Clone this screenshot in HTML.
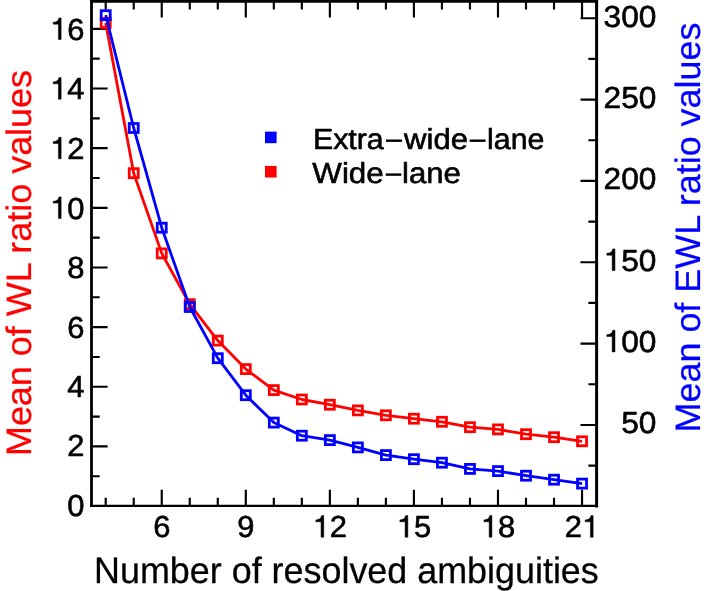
<!DOCTYPE html>
<html><head><meta charset="utf-8"><title>chart</title>
<style>
html,body{margin:0;padding:0;background:#fff;}
svg{display:block;will-change:transform;}
text{font-family:"Liberation Sans",sans-serif;stroke-width:0.6px;stroke-linejoin:round;text-rendering:geometricPrecision;}
text.t{stroke-width:0.25px;}text.k{stroke:#000;}text.r{stroke:#f00;}text.b{stroke:#00f;}
</style></head><body>
<svg width="711" height="591" viewBox="0 0 711 591">
<rect x="0" y="0" width="711" height="591" fill="#fff"/>
<path d="M105.70 505.90V497.70M105.70 1.37V9.57M133.72 505.90V497.70M133.72 1.37V9.57M161.74 505.90V489.80M161.74 1.37V17.47M189.76 505.90V497.70M189.76 1.37V9.57M217.78 505.90V497.70M217.78 1.37V9.57M245.80 505.90V489.80M245.80 1.37V17.47M273.82 505.90V497.70M273.82 1.37V9.57M301.84 505.90V497.70M301.84 1.37V9.57M329.86 505.90V489.80M329.86 1.37V17.47M357.88 505.90V497.70M357.88 1.37V9.57M385.90 505.90V497.70M385.90 1.37V9.57M413.92 505.90V489.80M413.92 1.37V17.47M441.94 505.90V497.70M441.94 1.37V9.57M469.96 505.90V497.70M469.96 1.37V9.57M497.98 505.90V489.80M497.98 1.37V17.47M526.00 505.90V497.70M526.00 1.37V9.57M554.02 505.90V497.70M554.02 1.37V9.57M582.04 505.90V489.80M582.04 1.37V17.47M91.50 476.27H99.70M91.50 446.44H107.60M91.50 416.61H99.70M91.50 386.78H107.60M91.50 356.95H99.70M91.50 327.12H107.60M91.50 297.29H99.70M91.50 267.46H107.60M91.50 237.63H99.70M91.50 207.80H107.60M91.50 177.97H99.70M91.50 148.14H107.60M91.50 118.31H99.70M91.50 88.48H107.60M91.50 58.65H99.70M91.50 28.82H107.60M596.60 465.62H588.40M596.60 424.95H580.50M596.60 384.27H588.40M596.60 343.60H580.50M596.60 302.93H588.40M596.60 262.25H580.50M596.60 221.57H588.40M596.60 180.90H580.50M596.60 140.23H588.40M596.60 99.55H580.50M596.60 58.88H588.40M596.60 18.20H580.50" stroke="#000" stroke-width="2.15" fill="none"/>
<polyline points="105.70,23.00 133.72,173.20 161.74,253.40 189.76,304.20 217.78,340.60 245.80,369.10 273.82,390.10 301.84,399.50 329.86,404.70 357.88,410.40 385.90,415.30 413.92,418.70 441.94,421.80 469.96,427.20 497.98,429.40 526.00,434.20 554.02,437.20 582.04,441.30" fill="none" stroke="#ff0000" stroke-width="2.8" stroke-linejoin="round"/>
<rect x="101.20" y="18.50" width="9.0" height="9.0" fill="none" stroke="#ff0000" stroke-width="2.8"/>
<rect x="129.22" y="168.70" width="9.0" height="9.0" fill="none" stroke="#ff0000" stroke-width="2.8"/>
<rect x="157.24" y="248.90" width="9.0" height="9.0" fill="none" stroke="#ff0000" stroke-width="2.8"/>
<rect x="185.26" y="299.70" width="9.0" height="9.0" fill="none" stroke="#ff0000" stroke-width="2.8"/>
<rect x="213.28" y="336.10" width="9.0" height="9.0" fill="none" stroke="#ff0000" stroke-width="2.8"/>
<rect x="241.30" y="364.60" width="9.0" height="9.0" fill="none" stroke="#ff0000" stroke-width="2.8"/>
<rect x="269.32" y="385.60" width="9.0" height="9.0" fill="none" stroke="#ff0000" stroke-width="2.8"/>
<rect x="297.34" y="395.00" width="9.0" height="9.0" fill="none" stroke="#ff0000" stroke-width="2.8"/>
<rect x="325.36" y="400.20" width="9.0" height="9.0" fill="none" stroke="#ff0000" stroke-width="2.8"/>
<rect x="353.38" y="405.90" width="9.0" height="9.0" fill="none" stroke="#ff0000" stroke-width="2.8"/>
<rect x="381.40" y="410.80" width="9.0" height="9.0" fill="none" stroke="#ff0000" stroke-width="2.8"/>
<rect x="409.42" y="414.20" width="9.0" height="9.0" fill="none" stroke="#ff0000" stroke-width="2.8"/>
<rect x="437.44" y="417.30" width="9.0" height="9.0" fill="none" stroke="#ff0000" stroke-width="2.8"/>
<rect x="465.46" y="422.70" width="9.0" height="9.0" fill="none" stroke="#ff0000" stroke-width="2.8"/>
<rect x="493.48" y="424.90" width="9.0" height="9.0" fill="none" stroke="#ff0000" stroke-width="2.8"/>
<rect x="521.50" y="429.70" width="9.0" height="9.0" fill="none" stroke="#ff0000" stroke-width="2.8"/>
<rect x="549.52" y="432.70" width="9.0" height="9.0" fill="none" stroke="#ff0000" stroke-width="2.8"/>
<rect x="577.54" y="436.80" width="9.0" height="9.0" fill="none" stroke="#ff0000" stroke-width="2.8"/>
<polyline points="105.70,15.20 133.72,128.00 161.74,227.70 189.76,307.00 217.78,358.20 245.80,395.20 273.82,422.60 301.84,435.70 329.86,440.10 357.88,447.40 385.90,455.10 413.92,459.20 441.94,462.70 469.96,468.90 497.98,471.10 526.00,475.70 554.02,479.70 582.04,483.60" fill="none" stroke="#0000ff" stroke-width="2.8" stroke-linejoin="round"/>
<rect x="101.20" y="10.70" width="9.0" height="9.0" fill="none" stroke="#0000ff" stroke-width="2.8"/>
<rect x="129.22" y="123.50" width="9.0" height="9.0" fill="none" stroke="#0000ff" stroke-width="2.8"/>
<rect x="157.24" y="223.20" width="9.0" height="9.0" fill="none" stroke="#0000ff" stroke-width="2.8"/>
<rect x="185.26" y="302.50" width="9.0" height="9.0" fill="none" stroke="#0000ff" stroke-width="2.8"/>
<rect x="213.28" y="353.70" width="9.0" height="9.0" fill="none" stroke="#0000ff" stroke-width="2.8"/>
<rect x="241.30" y="390.70" width="9.0" height="9.0" fill="none" stroke="#0000ff" stroke-width="2.8"/>
<rect x="269.32" y="418.10" width="9.0" height="9.0" fill="none" stroke="#0000ff" stroke-width="2.8"/>
<rect x="297.34" y="431.20" width="9.0" height="9.0" fill="none" stroke="#0000ff" stroke-width="2.8"/>
<rect x="325.36" y="435.60" width="9.0" height="9.0" fill="none" stroke="#0000ff" stroke-width="2.8"/>
<rect x="353.38" y="442.90" width="9.0" height="9.0" fill="none" stroke="#0000ff" stroke-width="2.8"/>
<rect x="381.40" y="450.60" width="9.0" height="9.0" fill="none" stroke="#0000ff" stroke-width="2.8"/>
<rect x="409.42" y="454.70" width="9.0" height="9.0" fill="none" stroke="#0000ff" stroke-width="2.8"/>
<rect x="437.44" y="458.20" width="9.0" height="9.0" fill="none" stroke="#0000ff" stroke-width="2.8"/>
<rect x="465.46" y="464.40" width="9.0" height="9.0" fill="none" stroke="#0000ff" stroke-width="2.8"/>
<rect x="493.48" y="466.60" width="9.0" height="9.0" fill="none" stroke="#0000ff" stroke-width="2.8"/>
<rect x="521.50" y="471.20" width="9.0" height="9.0" fill="none" stroke="#0000ff" stroke-width="2.8"/>
<rect x="549.52" y="475.20" width="9.0" height="9.0" fill="none" stroke="#0000ff" stroke-width="2.8"/>
<rect x="577.54" y="479.10" width="9.0" height="9.0" fill="none" stroke="#0000ff" stroke-width="2.8"/>
<path d="M91.5 506.9V-0.029999999999999805" stroke="#000" stroke-width="2.8" fill="none"/>
<path d="M90.1 1.37H598.1" stroke="#000" stroke-width="2.76" fill="none"/>
<path d="M596.6 -0.029999999999999805V507.5" stroke="#000" stroke-width="3.0" fill="none"/>
<path d="M90.1 505.9H598.1" stroke="#000" stroke-width="2.1" fill="none"/>
<text transform="translate(153.15,537.20) scale(1.03,1.015)" font-size="30.0" text-anchor="start" class="k">6</text>
<text transform="translate(237.21,537.20) scale(1.03,1.015)" font-size="30.0" text-anchor="start" class="k">9</text>
<path transform="translate(312.68,537.20) scale(0.03090,-0.03045)" d="M359 0H271V505H102V568C209 572 263 598 287 709H359Z" fill="#000" stroke="#000" stroke-width="16" stroke-linejoin="round"/>
<text transform="translate(329.86,537.20) scale(1.03,1.015)" font-size="30.0" text-anchor="start" class="k">2</text>
<path transform="translate(396.74,537.20) scale(0.03090,-0.03045)" d="M359 0H271V505H102V568C209 572 263 598 287 709H359Z" fill="#000" stroke="#000" stroke-width="16" stroke-linejoin="round"/>
<text transform="translate(413.92,537.20) scale(1.03,1.015)" font-size="30.0" text-anchor="start" class="k">5</text>
<path transform="translate(480.80,537.20) scale(0.03090,-0.03045)" d="M359 0H271V505H102V568C209 572 263 598 287 709H359Z" fill="#000" stroke="#000" stroke-width="16" stroke-linejoin="round"/>
<text transform="translate(497.98,537.20) scale(1.03,1.015)" font-size="30.0" text-anchor="start" class="k">8</text>
<text transform="translate(564.86,537.20) scale(1.03,1.015)" font-size="30.0" text-anchor="start" class="k">2</text>
<path transform="translate(582.04,537.20) scale(0.03090,-0.03045)" d="M359 0H271V505H102V568C209 572 263 598 287 709H359Z" fill="#000" stroke="#000" stroke-width="16" stroke-linejoin="round"/>
<text transform="translate(67.22,516.00) scale(1.03,1.015)" font-size="30.0" text-anchor="start" class="k">0</text>
<text transform="translate(67.22,456.24) scale(1.03,1.015)" font-size="30.0" text-anchor="start" class="k">2</text>
<text transform="translate(67.22,397.48) scale(1.03,1.015)" font-size="30.0" text-anchor="start" class="k">4</text>
<text transform="translate(67.22,337.82) scale(1.03,1.015)" font-size="30.0" text-anchor="start" class="k">6</text>
<text transform="translate(67.22,278.16) scale(1.03,1.015)" font-size="30.0" text-anchor="start" class="k">8</text>
<path transform="translate(50.04,218.50) scale(0.03090,-0.03045)" d="M359 0H271V505H102V568C209 572 263 598 287 709H359Z" fill="#000" stroke="#000" stroke-width="16" stroke-linejoin="round"/>
<text transform="translate(67.22,218.50) scale(1.03,1.015)" font-size="30.0" text-anchor="start" class="k">0</text>
<path transform="translate(50.04,158.84) scale(0.03090,-0.03045)" d="M359 0H271V505H102V568C209 572 263 598 287 709H359Z" fill="#000" stroke="#000" stroke-width="16" stroke-linejoin="round"/>
<text transform="translate(67.22,158.84) scale(1.03,1.015)" font-size="30.0" text-anchor="start" class="k">2</text>
<path transform="translate(50.04,99.18) scale(0.03090,-0.03045)" d="M359 0H271V505H102V568C209 572 263 598 287 709H359Z" fill="#000" stroke="#000" stroke-width="16" stroke-linejoin="round"/>
<text transform="translate(67.22,99.18) scale(1.03,1.015)" font-size="30.0" text-anchor="start" class="k">4</text>
<path transform="translate(50.04,39.52) scale(0.03090,-0.03045)" d="M359 0H271V505H102V568C209 572 263 598 287 709H359Z" fill="#000" stroke="#000" stroke-width="16" stroke-linejoin="round"/>
<text transform="translate(67.22,39.52) scale(1.03,1.015)" font-size="30.0" text-anchor="start" class="k">6</text>
<text transform="translate(621.21,433.25) scale(1.055,1.015)" font-size="30.0" text-anchor="start" class="k">5</text>
<text transform="translate(638.80,433.25) scale(1.055,1.015)" font-size="30.0" text-anchor="start" class="k">0</text>
<path transform="translate(603.61,351.90) scale(0.03165,-0.03045)" d="M359 0H271V505H102V568C209 572 263 598 287 709H359Z" fill="#000" stroke="#000" stroke-width="16" stroke-linejoin="round"/>
<text transform="translate(621.21,351.90) scale(1.055,1.015)" font-size="30.0" text-anchor="start" class="k">0</text>
<text transform="translate(638.80,351.90) scale(1.055,1.015)" font-size="30.0" text-anchor="start" class="k">0</text>
<path transform="translate(603.61,270.55) scale(0.03165,-0.03045)" d="M359 0H271V505H102V568C209 572 263 598 287 709H359Z" fill="#000" stroke="#000" stroke-width="16" stroke-linejoin="round"/>
<text transform="translate(621.21,270.55) scale(1.055,1.015)" font-size="30.0" text-anchor="start" class="k">5</text>
<text transform="translate(638.80,270.55) scale(1.055,1.015)" font-size="30.0" text-anchor="start" class="k">0</text>
<text transform="translate(603.61,189.20) scale(1.055,1.015)" font-size="30.0" text-anchor="start" class="k">2</text>
<text transform="translate(621.21,189.20) scale(1.055,1.015)" font-size="30.0" text-anchor="start" class="k">0</text>
<text transform="translate(638.80,189.20) scale(1.055,1.015)" font-size="30.0" text-anchor="start" class="k">0</text>
<text transform="translate(603.61,107.85) scale(1.055,1.015)" font-size="30.0" text-anchor="start" class="k">2</text>
<text transform="translate(621.21,107.85) scale(1.055,1.015)" font-size="30.0" text-anchor="start" class="k">5</text>
<text transform="translate(638.80,107.85) scale(1.055,1.015)" font-size="30.0" text-anchor="start" class="k">0</text>
<text transform="translate(603.61,26.50) scale(1.055,1.015)" font-size="30.0" text-anchor="start" class="k">3</text>
<text transform="translate(621.21,26.50) scale(1.055,1.015)" font-size="30.0" text-anchor="start" class="k">0</text>
<text transform="translate(638.80,26.50) scale(1.055,1.015)" font-size="30.0" text-anchor="start" class="k">0</text>
<text transform="translate(346.40,582.80) scale(0.997,1.02)" font-size="36.0" text-anchor="middle" class="k t">Number of resolved ambiguities</text>
<text transform="translate(30.60,263.00) rotate(-90) scale(0.998,0.98)" font-size="36.0" text-anchor="middle" class="r t" fill="#ff0000">Mean of WL ratio values</text>
<text transform="translate(700.30,227.50) rotate(-90) scale(0.9975,0.98)" font-size="36.0" text-anchor="middle" class="b t" fill="#0000ff">Mean of EWL ratio values</text>
<rect x="265" y="131.6" width="11.6" height="11.6" fill="#0000ff"/>
<rect x="265" y="165.9" width="11.6" height="11.6" fill="#ff0000"/>
<text transform="translate(312.90,148.80) scale(1.012,0.97)" font-size="30.0" text-anchor="start" class="k">Extra</text>
<text transform="translate(404.10,148.80) scale(1.036,0.97)" font-size="30.0" text-anchor="start" class="k">wide</text>
<text transform="translate(487.10,148.80) scale(1.012,0.97)" font-size="30.0" text-anchor="start" class="k">lane</text>
<text transform="translate(312.30,182.60) scale(1.045,0.97)" font-size="30.0" text-anchor="start" class="k">Wide</text>
<text transform="translate(402.00,182.60) scale(1.038,0.97)" font-size="30.0" text-anchor="start" class="k">lane</text>
<line x1="386.0" y1="140.7" x2="402.0" y2="140.7" stroke="#000" stroke-width="2.4"/>
<line x1="469.6" y1="140.7" x2="485.6" y2="140.7" stroke="#000" stroke-width="2.4"/>
<line x1="385.7" y1="174.6" x2="401.3" y2="174.6" stroke="#000" stroke-width="2.4"/>
</svg></body></html>
